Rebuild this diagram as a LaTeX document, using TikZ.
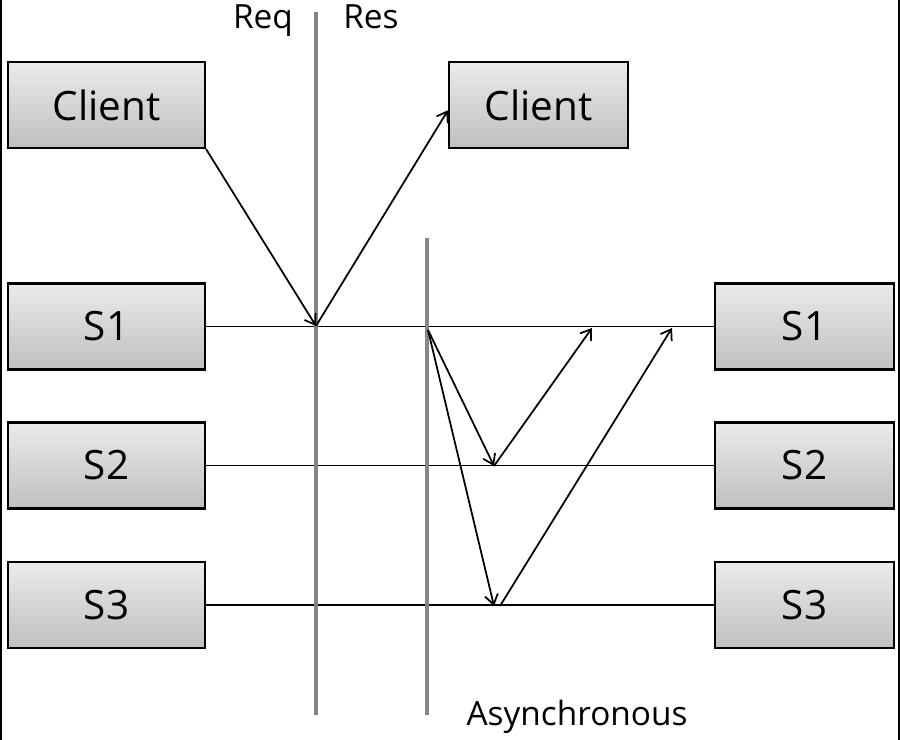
\documentclass[tikz,border=0pt]{standalone}
\usepackage{fontspec}
\setmainfont{Open Sans}
\usetikzlibrary{arrows,arrows.meta,positioning}

\begin{document}
\begin{tikzpicture}
[x=0.02cm,y=-0.02cm,
box/.style={rectangle,draw=black,line width=1.2pt,top color=black!8,bottom color=black!25,minimum height=1.72cm,font=\fontsize{23}{27}\selectfont},
boxl/.style={box,minimum width=3.94cm},
boxr/.style={box,minimum width=3.58cm},
split/.style={draw=black!48,line width=2pt},
msg/.style={draw=black,line width=1pt,-{Straight Barb[length=5.5pt,width=7.5pt]}},
wire/.style={draw=black,line width=1pt},
lbl/.style={anchor=base,inner sep=0pt,font=\fontsize{19}{23}\selectfont}]
\useasboundingbox (0,0) rectangle (900,740);
\draw[line width=1.2pt] (1,0) -- (1,740);
\draw[line width=1.2pt] (899,0) -- (899,740);
% boxes
\node (client) at (106.5,105) [boxl] {Client};
\node (clientr) at (538.5,105) [boxr] {Client};
\node (s1) at (106.5,326.5) [boxl] {S1};
\node (s2) at (106.5,465.5) [boxl] {S2};
\node (s3) at (106.5,605) [boxl] {S3};
\node (s1r) at (804.5,326.5) [boxr] {S1};
\node (s2r) at (804.5,465.5) [boxr] {S2};
\node (s3r) at (804.5,605) [boxr] {S3};
% labels
\node (req) at (263,29) [lbl] {Req};
\node (res) at (371,29) [lbl] {Res};
\node (async) at (577,725) [lbl] {Asynchronous};
% points
\coordinate (hit) at (316,326);
\coordinate (a0) at (428,330);
\coordinate (b2) at (494,466);
\coordinate (b3) at (494,606);
\coordinate (c3) at (500,606);
\coordinate (e2) at (592,328);
\coordinate (e3) at (672,328);
% service lines
\draw[wire] (s1.east) -- (s1r.west);
\draw[wire] (s2.east) -- (s2r.west);
\draw[wire] (s3.east) -- (s3r.west);
% split lines
\draw[split] (316,12) -- (316,715);
\draw[split] (427,238) -- (427,715);
% messages
\draw[msg] (client.south east) -- (hit);
\draw[msg] (hit) -- ([yshift=-3]clientr.west);
\draw[msg] (a0) -- (b2);
\draw[msg] (b2) -- (e2);
\draw[msg] (a0) -- (b3);
\draw[msg] (c3) -- (e3);
\end{tikzpicture}
\end{document}
